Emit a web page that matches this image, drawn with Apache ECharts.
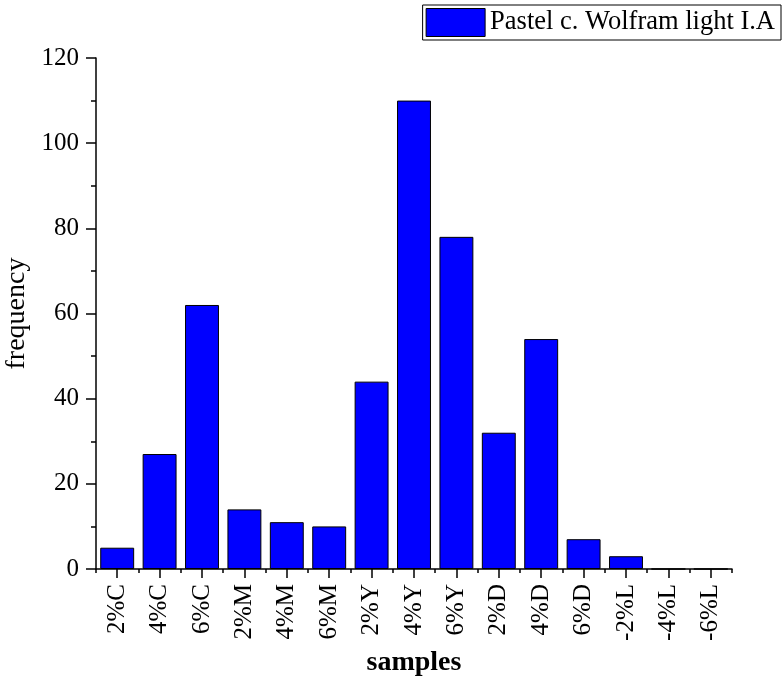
<!DOCTYPE html>
<html>
<head>
<meta charset="utf-8">
<script src="https://cdn.jsdelivr.net/npm/echarts@6/dist/echarts.min.js"></script>
<style>html,body{margin:0;padding:0;background:#fff}#c{width:783px;height:684px}</style>
</head>
<body>
<div id="c"></div>
<script>
const categories = ['2%C','4%C','6%C','2%M','4%M','6%M','2%Y','4%Y','6%Y','2%D','4%D','6%D','-2%L','-4%L','-6%L'];
const frequency = [5, 27, 62, 14, 11, 10, 44, 110, 78, 32, 54, 7, 3, 0, 0];
const seriesName = 'Pastel c. Wolfram light I.A';
const yTicks = { min: 0, max: 120, interval: 20 };

const font = 'Liberation Serif';
const chart = echarts.init(document.getElementById('c'), null, { renderer: 'canvas' });
chart.setOption({
  animation: false,
  backgroundColor: '#fff',
  grid: { left: 96, right: 51, top: 58, bottom: 115, containLabel: false, outerBoundsMode: 'none' },
  legend: {
    data: [seriesName],
    right: 2, top: 5,
    padding: [3, 6, 3, 3],
    borderColor: '#000', borderWidth: 1, borderRadius: 0,
    itemWidth: 59, itemHeight: 28, itemGap: 0,
    icon: 'rect',
    itemStyle: { borderColor: '#000', borderWidth: 1 },
    textStyle: { fontFamily: font, fontSize: 26.5, color: '#000' }
  },
  xAxis: [{
    type: 'category', data: categories,
    name: 'samples', nameLocation: 'middle', nameGap: 79,
    nameTextStyle: { fontFamily: font, fontSize: 28, fontWeight: 'bold', color: '#000' },
    axisLine: { show: true, lineStyle: { color: '#000', width: 1.5 } },
    axisTick: { show: true, alignWithLabel: true, length: 9, lineStyle: { color: '#000', width: 1.5 } },
    axisLabel: { rotate: 90, margin: 15, fontFamily: font, fontSize: 25, color: '#000', interval: 0 },
    splitLine: { show: false }
  }, {
    type: 'category', data: categories, position: 'bottom',
    axisLine: { show: false },
    axisTick: { show: true, length: 4, lineStyle: { color: '#000', width: 1.5 } },
    axisLabel: { show: false },
    splitLine: { show: false }
  }],
  yAxis: {
    type: 'value', min: yTicks.min, max: yTicks.max, interval: yTicks.interval,
    name: 'frequency', nameLocation: 'middle', nameGap: 59,
    nameTextStyle: { fontFamily: font, fontSize: 28, color: '#000' },
    axisLine: { show: true, lineStyle: { color: '#000', width: 1.5 } },
    axisTick: { show: true, length: 10, lineStyle: { color: '#000', width: 1.5 } },
    minorTick: { show: true, splitNumber: 2, length: 5, lineStyle: { color: '#000', width: 1.5 } },
    axisLabel: { margin: 17, fontFamily: font, fontSize: 25, color: '#000' },
    splitLine: { show: false }
  },
  series: [{
    name: seriesName, type: 'bar', data: frequency, xAxisIndex: 0,
    barCategoryGap: '20%',
    itemStyle: { color: '#0000FF', borderColor: '#000', borderWidth: 1 }
  }]
});
</script>
</body>
</html>
